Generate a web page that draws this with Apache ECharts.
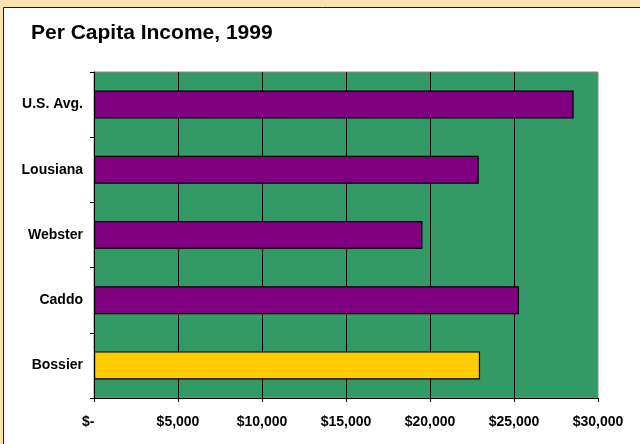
<!DOCTYPE html>
<html>
<head>
<meta charset="utf-8">
<script src="https://cdn.jsdelivr.net/npm/echarts@6/dist/echarts.min.js"></script>
<style>
  html, body { margin: 0; padding: 0; background: #F9E4B1; }
  #chart { width: 640px; height: 444px; }
</style>
</head>
<body>
<div id="chart"></div>
<script>
// Per capita income, 1999 (dollars), listed bottom to top
const places = ['Bossier', 'Caddo', 'Webster', 'Lousiana', 'U.S. Avg.'];
const income = [22980, 25300, 19550, 22900, 28550];
const highlighted = 'Bossier';
const xTicks = { min: 0, max: 30000, step: 5000 };

const FONT = '"Liberation Sans", Arial, sans-serif';

const barData = places.map((name, i) => ({
  value: income[i],
  itemStyle: { color: name === highlighted ? '#FFCC00' : '#800080' }
}));

function money(v) {
  if (v === 0) return '$-   ';
  return '$' + v.toLocaleString('en-US');
}

const chart = echarts.init(document.getElementById('chart'), null, { renderer: 'canvas' });
chart.setOption({
  backgroundColor: '#F9E4B1',
  animation: false,
  graphic: [{
    type: 'rect',
    z: -10,
    silent: true,
    shape: { x: 3.5, y: 7.5, width: 700, height: 500 },
    style: { fill: '#FFFFFF', stroke: '#1a1a1a', lineWidth: 1 }
  }],
  title: {
    text: 'Per Capita Income, 1999',
    left: 31,
    top: 23,
    padding: 0,
    textStyle: { fontFamily: FONT, fontSize: 21, fontWeight: 'bold', color: '#000' }
  },
  grid: {
    left: 94, right: 42, top: 72, bottom: 46,
    show: true,
    backgroundColor: '#339966',
    borderColor: '#8a8a8a',
    borderWidth: 1
  },
  xAxis: {
    type: 'value',
    min: xTicks.min,
    max: xTicks.max,
    interval: xTicks.step,
    axisLine: { show: true, lineStyle: { color: '#000', width: 1 } },
    axisTick: { show: true, length: 4, lineStyle: { color: '#000' } },
    splitLine: { show: true, showMinLine: false, showMaxLine: false, lineStyle: { color: '#000', width: 1 } },
    axisLabel: {
      margin: 17,
      fontFamily: FONT, fontSize: 14, fontWeight: 'bold', color: '#000',
      formatter: money
    }
  },
  yAxis: {
    type: 'category',
    data: places,
    axisLine: { show: true, lineStyle: { color: '#000', width: 1 } },
    axisTick: { show: true, length: 4, lineStyle: { color: '#000' } },
    splitLine: { show: false },
    axisLabel: {
      margin: 11,
      fontFamily: FONT, fontSize: 14, fontWeight: 'bold', color: '#000'
    }
  },
  series: [{
    type: 'bar',
    data: barData,
    barWidth: 28,
    itemStyle: { borderColor: '#000', borderWidth: 1.2 }
  }]
});
</script>
</body>
</html>
